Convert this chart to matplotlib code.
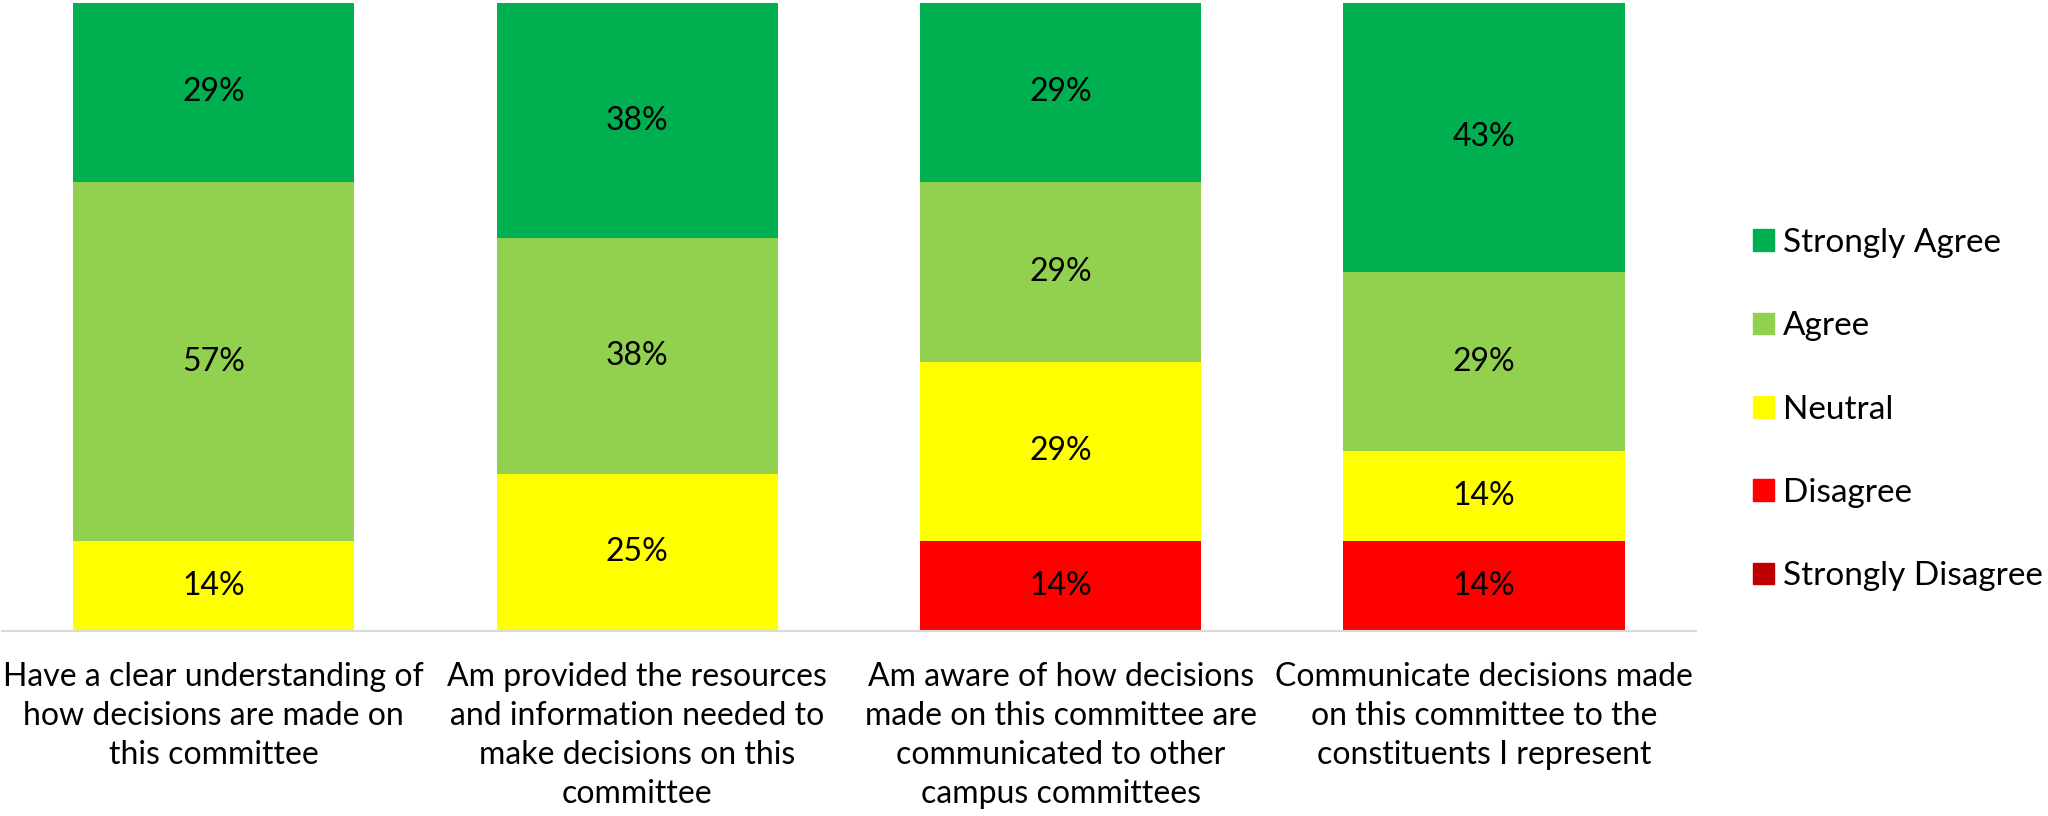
import numpy as np
import matplotlib
matplotlib.use("Agg")
import matplotlib.pyplot as plt
from matplotlib.patches import Patch

plt.rcParams['font.family'] = ['Lato', 'DejaVu Sans']

# questions (x axis), bottom to top stacking order of responses
QUESTIONS = [
    "Have a clear understanding of\nhow decisions are made on\nthis committee",
    "Am provided the resources\nand information needed to\nmake decisions on this\ncommittee",
    "Am aware of how decisions\nmade on this committee are\ncommunicated to other\ncampus committees",
    "Communicate decisions made\non this committee to the\nconstituents I represent",
]
strongly_disagree = [0.0, 0.0, 0.0, 0.0]
disagree = [0.0, 0.0, 0.1429, 0.1429]
neutral = [0.1429, 0.25, 0.2857, 0.1429]
agree = [0.5714, 0.375, 0.2857, 0.2857]
strongly_agree = [0.2857, 0.375, 0.2857, 0.4286]

SERIES = ["Strongly Disagree", "Disagree", "Neutral", "Agree", "Strongly Agree"]
COLORS = ["#C00000", "#FF0000", "#FFFF00", "#92D050", "#00B050"]
FS = 23
LEG_FS = 24

fig = plt.figure(figsize=(20.48, 8.16), dpi=100)
ax = fig.add_axes([0.001, 0.2267, 0.827, 0.7700])

x = np.arange(len(QUESTIONS))
bottom = np.zeros(len(QUESTIONS))
for name, vals, col in zip(SERIES, [strongly_disagree, disagree, neutral, agree, strongly_agree], COLORS):
    vals = np.array(vals)
    ax.bar(x, vals, width=0.664, bottom=bottom, color=col, label=name)
    for xi, v, b in zip(x, vals, bottom):
        if v > 0:
            ax.text(xi, b + v / 2, f"{v:.0%}", ha="center", va="center", fontsize=FS, color="black")
    bottom += vals

ax.set_xlim(-0.5, len(QUESTIONS) - 0.5)
ax.set_ylim(0, 1)
ax.set_yticks([])
ax.set_xticks(x)
ax.set_xticklabels(QUESTIONS, fontsize=FS, linespacing=1.38)
ax.tick_params(axis="x", length=0, pad=22)
for s in ["top", "right", "left"]:
    ax.spines[s].set_visible(False)
ax.spines["bottom"].set_color("#D9D9D9")
ax.spines["bottom"].set_linewidth(1.5)

handles = [Patch(color=c, label=n) for n, c in zip(SERIES, COLORS)][::-1]
fig.legend(handles=handles, loc="center left", bbox_to_anchor=(0.856, 0.498),
           frameon=False, fontsize=LEG_FS, handlelength=0.62, handleheight=0.62,
           handletextpad=0.27, labelspacing=1.6, borderpad=0, borderaxespad=0)

fig.savefig("out.png", dpi=100)
